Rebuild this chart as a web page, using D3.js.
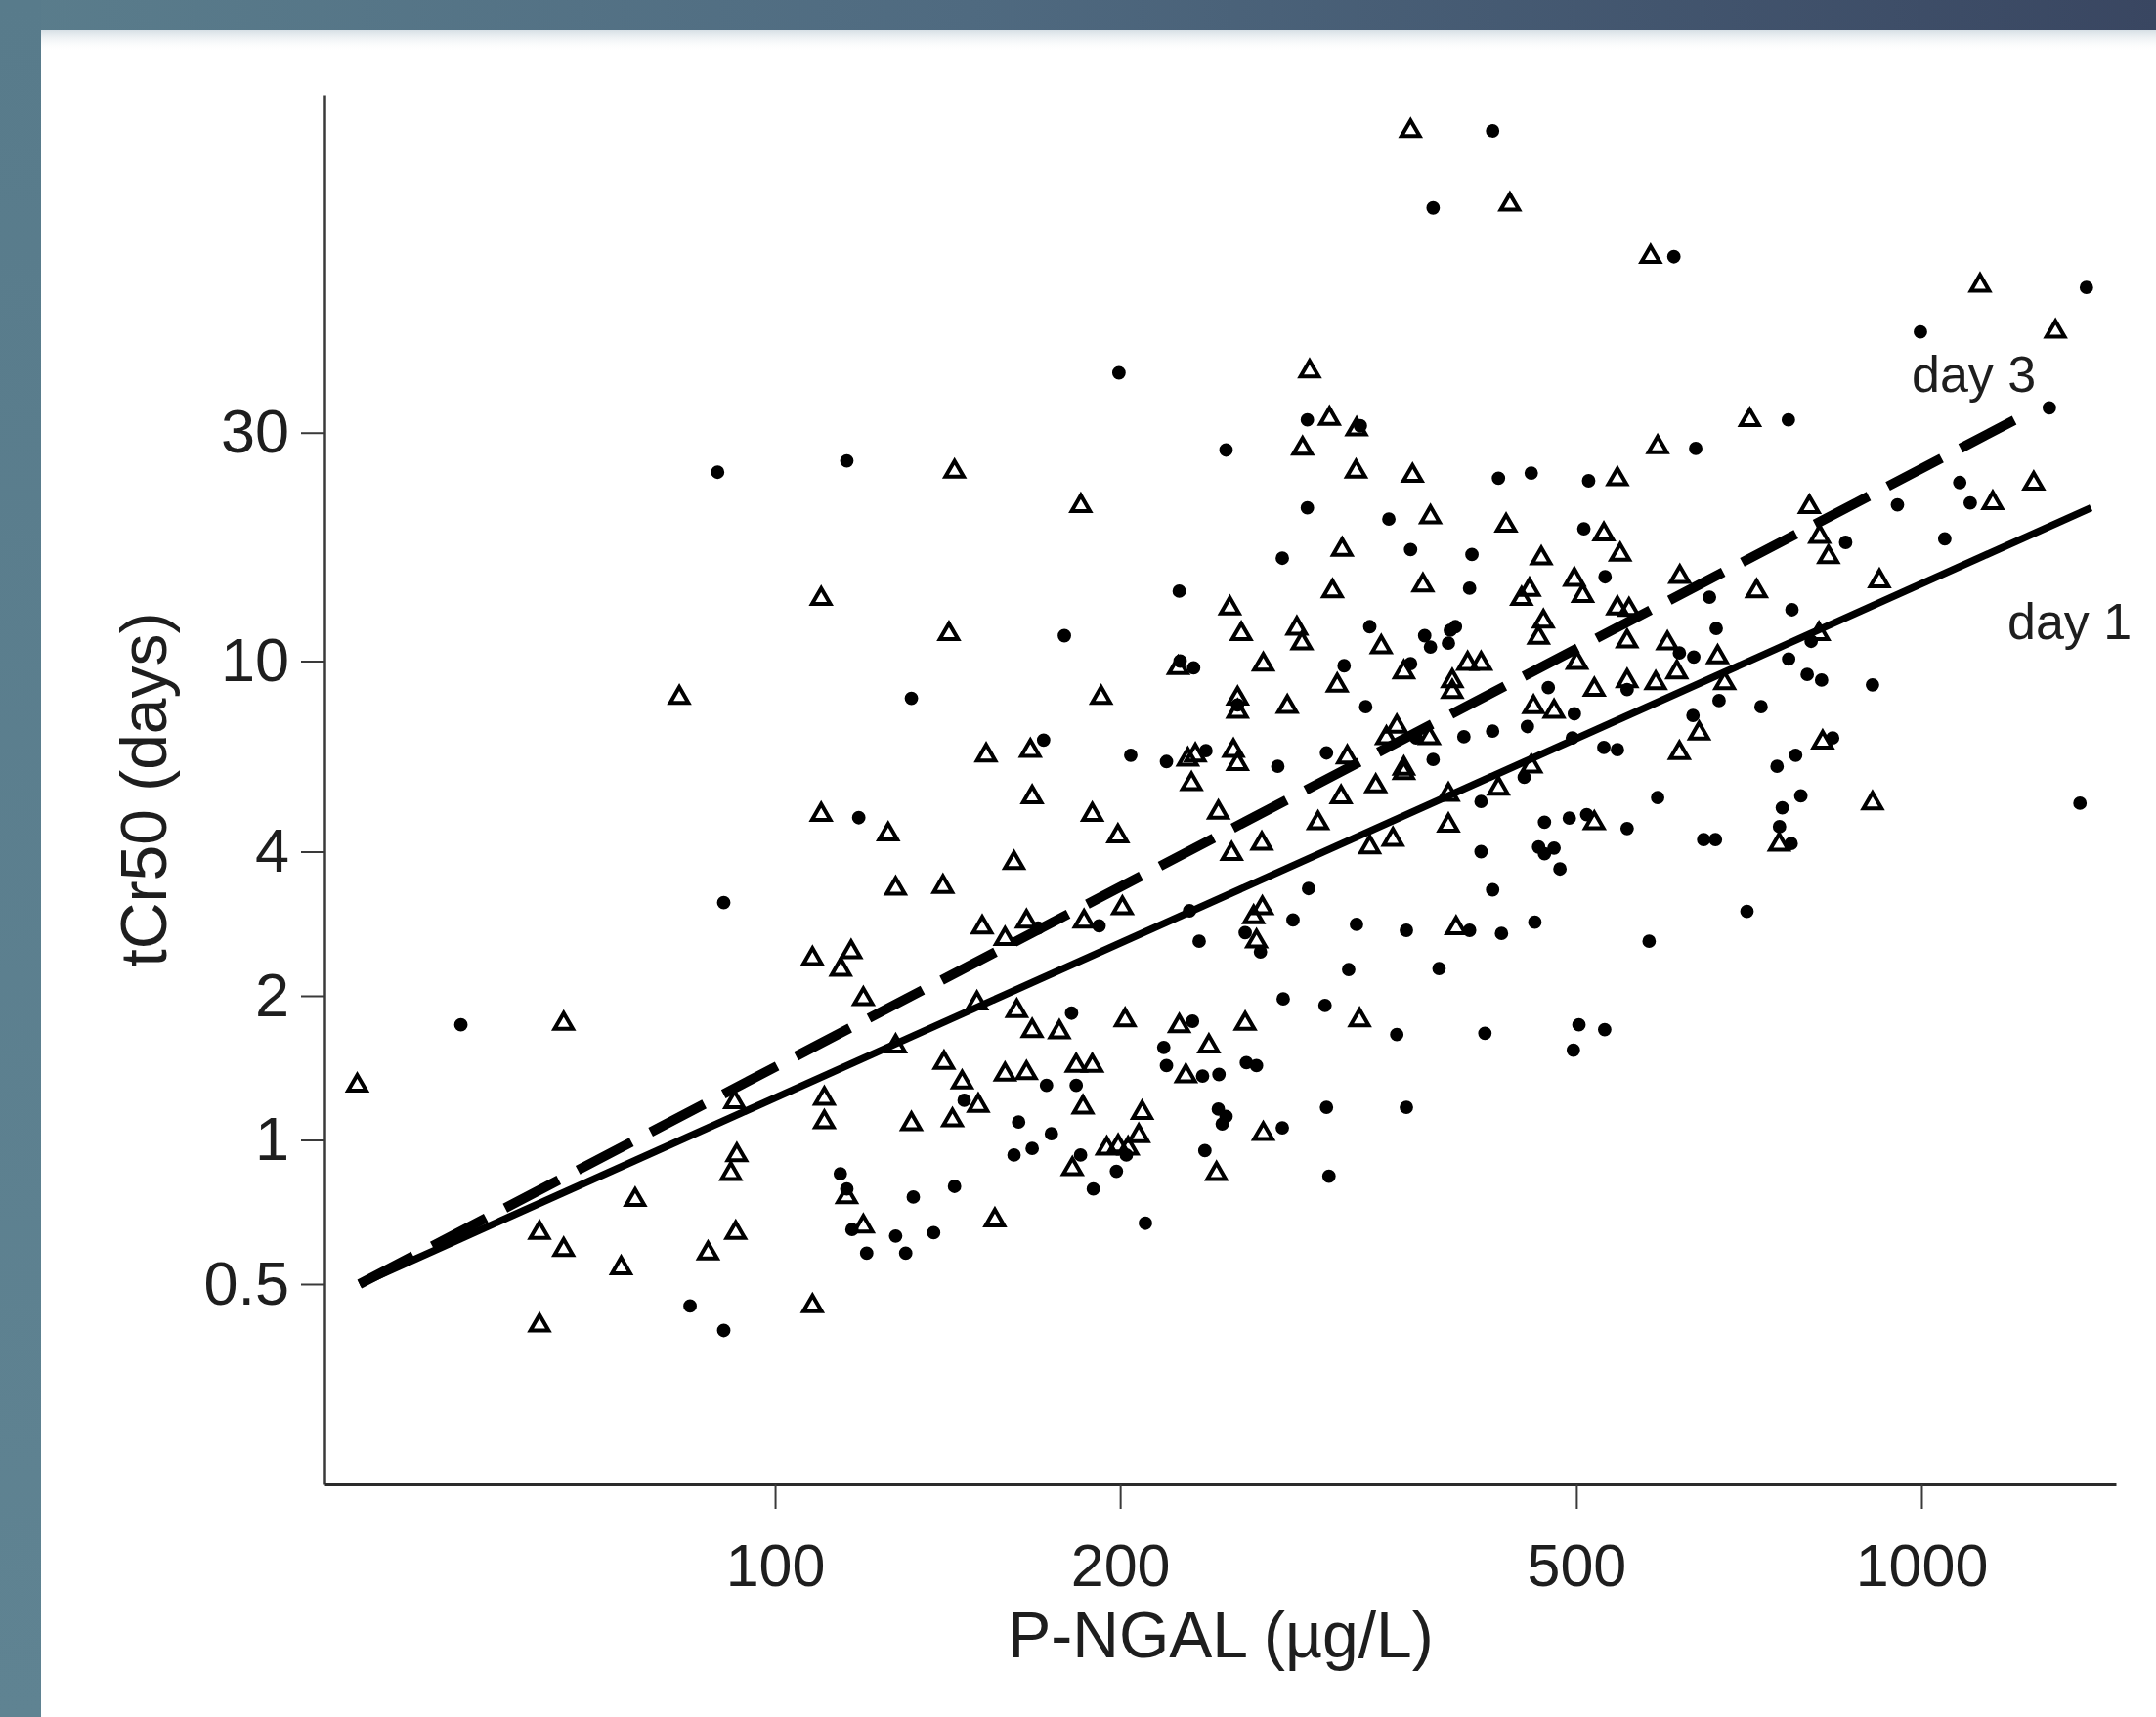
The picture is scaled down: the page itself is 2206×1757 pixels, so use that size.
<!DOCTYPE html>
<html>
<head>
<meta charset="utf-8">
<script src="https://cdn.jsdelivr.net/npm/d3@7"></script>
<style>
  body { margin: 0; background: #fff; }
  svg { display: block; }
  text { font-family: "Liberation Sans", Arial, sans-serif; fill: #1e1e1e; }
</style>
</head>
<body>
<svg id="chart"></svg>
<script>
// P-NGAL (ug/L) vs tCr50 (days)
let dotPoints = [
  [53.2,1.74],[84.3,0.45],[90.2,0.40],[90.2,3.13],[118.3,4.71],[114,0.85],[115.5,0.79],[132,0.76],[116.7,0.65],[127.4,0.63],
  [120.2,0.58],[130,0.58],[89.1,24.8],[115.5,26.2],[131.5,8.36],[422.6,128],[375,88.4],[199.5,40.0],[291.3,31.9],[324,31.0],
  [247.4,27.6],[427.6,24.1],[291.3,20.9],[343.1,19.8],[277,16.4],[358.4,17.1],[405.4,16.7],[403.5,14.2],[225.2,14.0],[178.8,11.3],
  [330.2,11.8],[368.7,11.3],[373,10.7],[388.2,11.6],[392.2,11.8],[386.7,10.9],[231.8,9.68],[225.6,10.0],[313.6,9.78],[358.4,9.88],
  [253.2,8.10],[327.5,8.03],[362.4,6.91],[398.9,6.95],[422.6,7.14],[171.5,6.84],[204.3,6.36],[219.5,6.17],[237.6,6.50],[274.5,6.03],
  [302.7,6.43],[375,6.23],[608.2,69.9],[1393,60.3],[998,48.7],[1293,33.8],[765.5,31.9],[635.5,27.8],[456.7,24.7],[512.5,23.8],
  [1080,23.6],[1103,21.4],[953,21.2],[507.6,18.9],[529.7,15.0],[653.3,13.6],[858.8,17.7],[1048,18.0],[771,12.8],[662.2,11.7],
  [615,10.4],[633,10.2],[553.7,8.72],[472.6,8.80],[498,7.76],[453.2,7.30],[496,6.91],[528.4,6.60],[543,6.53],[632,7.70],
  [666,8.27],[724.6,8.03],[765.9,10.1],[795,9.38],[818.3,9.13],[906.4,8.92],[836.7,6.91],[776.8,6.36],[748.3,6.03],[801.3,11.0],
  [450.3,5.72],[588.7,5.19],[784.9,5.23],[1375,5.05],[469,4.61],[493,4.70],[510.5,4.78],[553.7,4.47],[463.5,4.09],[478.1,4.07],
  [469,3.96],[483.8,3.68],[645.7,4.24],[661.2,4.24],[756.2,4.94],[752,4.51],[769.8,4.16],[460,2.85],[704.4,3.00],[578.7,2.60],
  [502.6,1.74],[529.3,1.70],[497,1.54],[169.6,2.77],[191.7,2.80],[412.9,5.09],[412.9,4.00],[422.6,3.33],[292,3.35],[283,2.88],
  [321.5,2.82],[355.4,2.74],[403.5,2.74],[430.2,2.70],[316.5,2.27],[379.5,2.28],[257.1,2.71],[265.1,2.47],[229.9,3.01],[234.4,2.60],
  [277.5,1.97],[301.8,1.91],[348.6,1.66],[416.1,1.67],[181.4,1.84],[231.3,1.77],[218.3,1.56],[219.5,1.43],[236,1.36],[243.9,1.37],
  [257.7,1.45],[263,1.43],[146.2,1.21],[172.5,1.30],[183.1,1.30],[163.1,1.09],[174.2,1.03],[167.6,0.96],[161.6,0.93],[202.5,0.93],
  [184.7,0.93],[198.5,0.86],[189.5,0.79],[143.4,0.80],[137.5,0.64],[210.4,0.67],[243.6,1.16],[247.4,1.12],[245.5,1.08],[237.1,0.95],
  [277,1.06],[302.7,1.17],[355.4,1.17],[304.2,0.84]
];

let triPoints = [
  [43.2,1.30],[65.4,1.75],[62.3,0.64],[65.4,0.59],[73.4,0.54],[75.5,0.75],[62.3,0.41],[87.4,0.58],[92.4,0.64],[91.5,0.85],
  [92.6,0.93],[107.8,0.45],[109.7,4.78],[125.5,4.35],[127.4,3.35],[107.8,2.39],[116.5,2.47],[114.1,2.27],[119.4,1.97],[127.4,1.57],
  [92.2,1.20],[110.4,1.22],[110.4,1.09],[131.5,1.08],[115.5,0.76],[119.4,0.66],[82.5,8.39],[109.7,13.5],[143.4,24.9],[184.8,21.1],
  [141.8,11.4],[152.8,6.36],[167,6.50],[229.1,6.23],[232.6,6.36],[251.1,6.50],[253.2,6.10],[315.6,6.30],[353.6,5.97],[192.5,8.39],
  [253.2,8.36],[253.2,7.85],[279.8,8.03],[348.6,7.30],[341.4,6.91],[372.2,6.91],[249.3,12.9],[255.1,11.4],[285.2,11.7],[288.1,10.9],
  [337.9,10.7],[224.7,9.68],[266.6,9.84],[353.6,9.48],[309.3,8.90],[389.7,9.09],[389.7,8.63],[401.9,9.88],[412.9,9.88],[358.4,128],
  [437.5,89.9],[292.6,40.3],[304.5,32.1],[321.6,30.5],[288.5,27.8],[321.2,24.9],[359.8,24.4],[373,20.0],[434.2,19.2],[312.4,17.1],
  [306.4,14.0],[367.4,14.4],[580.4,69.9],[1125,60.9],[1309,48.8],[708.4,31.9],[588.7,28.0],[543,24.0],[1253,23.5],[1154,21.4],
  [798.5,21.0],[528.4,18.4],[466,16.4],[546,16.7],[498,14.8],[506.5,13.7],[455.1,14.1],[447.9,13.5],[615.5,15.0],[718.2,14.0],
  [815,18.2],[829.6,16.5],[919,14.7],[468,12.1],[463.5,11.2],[543,12.9],[555.8,12.8],[553.7,11.0],[600.4,10.9],[664.1,10.2],
  [673.6,9.0],[500.7,9.92],[518.4,8.72],[553.7,9.09],[586.4,9.0],[611.9,9.48],[458.8,8.02],[478.1,7.85],[456.7,6.03],[615,6.43],
  [639.8,7.07],[820,6.77],[814,11.4],[906.4,5.05],[518.4,4.59],[751.4,4.14],[230.8,5.54],[167.6,5.20],[189.1,4.78],[199.1,4.31],
  [161.6,3.79],[140.1,3.38],[151.6,2.78],[158.7,2.63],[165.7,2.86],[186,2.86],[200.9,3.05],[243.6,4.83],[250.2,3.96],[265.8,4.16],
  [297.6,4.59],[311.7,5.20],[334.2,5.48],[353.6,5.84],[330.2,4.09],[345.9,4.24],[386.7,4.54],[386.7,5.26],[427.6,5.42],[392.7,2.77],
  [266.1,3.05],[261.5,2.92],[263,2.60],[323.5,1.78],[150,1.93],[162.5,1.86],[167.6,1.69],[177,1.68],[202,1.78],[225.2,1.73],
  [257.1,1.75],[239,1.57],[228.2,1.36],[140.4,1.45],[145.6,1.32],[150.4,1.18],[142.8,1.10],[158.7,1.37],[165.7,1.38],[183.1,1.43],
  [189.1,1.43],[185.6,1.17],[209,1.14],[207.6,1.02],[194.7,0.96],[199.2,0.97],[203.2,0.96],[181.7,0.87],[155.5,0.68],[242.7,0.85],
  [266.6,1.03]
];

// fitted lines (straight on log-log)
let day1FitX = [43.4, 1406];
let day1FitY = [0.50, 20.9];
let day3FitX = [43.4, 1240];
let day3FitY = [0.50, 33.0];

let xTicks = [100, 200, 500, 1000];
let yTicks = [0.5, 1, 2, 4, 10, 30];

let W = 2206, H = 1757;
let svg = d3.select('#chart').attr('width', W).attr('height', H);

// frame
let defs = svg.append('defs');
let topGrad = defs.append('linearGradient').attr('id', 'topGrad')
  .attr('x1', '0%').attr('x2', '100%').attr('y1', '0%').attr('y2', '0%');
topGrad.append('stop').attr('offset', '0%').attr('stop-color', '#5a7d8c');
topGrad.append('stop').attr('offset', '45%').attr('stop-color', '#4f6a80');
topGrad.append('stop').attr('offset', '100%').attr('stop-color', '#394661');
let leftGrad = defs.append('linearGradient').attr('id', 'leftGrad')
  .attr('x1', '0%').attr('x2', '0%').attr('y1', '0%').attr('y2', '100%');
leftGrad.append('stop').attr('offset', '0%').attr('stop-color', '#587b8b');
leftGrad.append('stop').attr('offset', '100%').attr('stop-color', '#5f8392');
let shade = defs.append('linearGradient').attr('id', 'shade')
  .attr('x1', '0%').attr('x2', '0%').attr('y1', '0%').attr('y2', '100%');
shade.append('stop').attr('offset', '0%').attr('stop-color', '#8aa4b4').attr('stop-opacity', 0.35);
shade.append('stop').attr('offset', '100%').attr('stop-color', '#ffffff').attr('stop-opacity', 0);

svg.append('rect').attr('width', W).attr('height', H).attr('fill', '#fff');
svg.append('rect').attr('x', 42).attr('y', 31).attr('width', W - 42).attr('height', 22).attr('fill', 'url(#shade)');
svg.append('rect').attr('width', W).attr('height', 31).attr('fill', 'url(#topGrad)');
svg.append('rect').attr('width', 42).attr('height', H).attr('fill', 'url(#leftGrad)');

// scales
let x = d3.scaleLog().domain([40.45, 1478]).range([332, 2165]);
let y = d3.scaleLog().domain([0.1908, 152.3]).range([1519, 97]);

// markers
svg.append('g').selectAll('path')
  .data(dotPoints)
  .enter()
  .append('path')
  .attr('transform', d => 'translate(' + x(d[0]) + ',' + y(d[1]) + ')')
  .attr('d', d3.symbol().type(d3.symbolCircle).size(150))
  .attr('fill', '#000');

svg.append('g').selectAll('path')
  .data(triPoints)
  .enter()
  .append('path')
  .attr('transform', d => 'translate(' + x(d[0]) + ',' + y(d[1]) + ')')
  .attr('d', d3.symbol().type(d3.symbolTriangle).size(150))
  .attr('fill', 'none')
  .attr('stroke', '#000')
  .attr('stroke-width', 4);

// fit lines
let line = d3.line().x(d => x(d[0])).y(d => y(d[1]));
svg.append('path')
  .datum(d3.zip(day1FitX, day1FitY))
  .attr('d', line)
  .attr('fill', 'none')
  .attr('stroke', '#000')
  .attr('stroke-width', 7.5);
svg.append('path')
  .datum(d3.zip(day3FitX, day3FitY))
  .attr('d', line)
  .attr('fill', 'none')
  .attr('stroke', '#000')
  .attr('stroke-width', 10)
  .attr('stroke-dasharray', '62,22');

// axes
let yAxis = svg.append('g')
  .attr('transform', 'translate(332,0)')
  .call(d3.axisLeft(y).tickValues(yTicks).tickFormat(d3.format('')).tickSize(24).tickSizeOuter(0).tickPadding(12));
yAxis.select('.domain').attr('stroke', '#3a3a3a').attr('stroke-width', 2.5);
yAxis.selectAll('.tick line').attr('stroke', '#3a3a3a').attr('stroke-width', 2);
yAxis.selectAll('.tick text').attr('font-size', 63).attr('font-family', '"Liberation Sans", Arial, sans-serif').attr('fill', '#1e1e1e');

let xAxis = svg.append('g')
  .attr('transform', 'translate(0,1519)')
  .call(d3.axisBottom(x).tickValues(xTicks).tickFormat(d3.format('')).tickSize(25).tickSizeOuter(0).tickPadding(36));
xAxis.select('.domain').attr('stroke', '#2a2a2a').attr('stroke-width', 3);
xAxis.selectAll('.tick line').attr('stroke', '#3a3a3a').attr('stroke-width', 2);
xAxis.selectAll('.tick text').attr('font-size', 61).attr('font-family', '"Liberation Sans", Arial, sans-serif').attr('fill', '#1e1e1e');

// titles
svg.append('text')
  .attr('x', 1249).attr('y', 1696)
  .attr('text-anchor', 'middle')
  .attr('font-size', 66)
  .text('P-NGAL (µg/L)');
svg.append('text')
  .attr('transform', 'translate(170,808) rotate(-90)')
  .attr('text-anchor', 'middle')
  .attr('font-size', 66)
  .text('tCr50 (days)');

// line labels
svg.append('text').attr('x', 1956).attr('y', 401).attr('font-size', 52).text('day 3');
svg.append('text').attr('x', 2054).attr('y', 654).attr('font-size', 52).text('day 1');
</script>
</body>
</html>
